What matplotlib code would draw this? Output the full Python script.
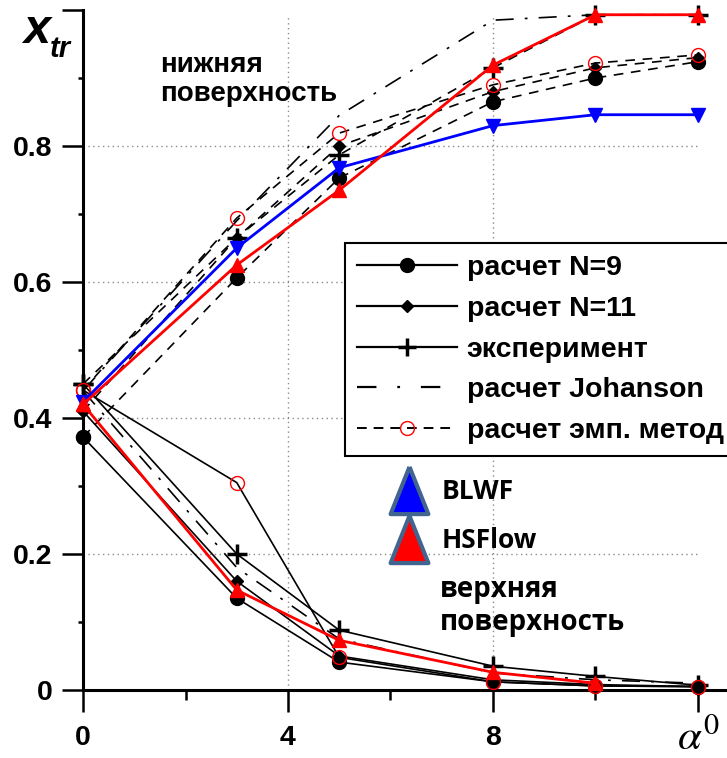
import matplotlib
matplotlib.use("Agg")
import matplotlib.pyplot as plt
from matplotlib.lines import Line2D

plt.rcParams["font.family"] = ["Liberation Sans", "DejaVu Sans"]
plt.rcParams["mathtext.fontset"] = "stix"
plt.rcParams["lines.scale_dashes"] = False

# angle of attack, deg
alpha = [0, 3, 5, 8, 10, 12]

# lower surface (upper branch)
low_n9 = [0.372, 0.606, 0.753, 0.865, 0.900, 0.924]
low_n11 = [0.410, 0.665, 0.800, 0.880, 0.915, 0.930]
low_exp = [0.450, 0.665, 0.787, 0.915, 0.993, 0.993]
low_joh = [0.440, 0.690, 0.845, 0.985, 0.993, 0.993]
low_emp = [0.441, 0.694, 0.819, 0.890, 0.922, 0.934]
low_blwf = [0.424, 0.650, 0.768, 0.830, 0.846, 0.846]
low_hsf = [0.420, 0.625, 0.735, 0.919, 0.993, 0.993]

# upper surface (lower branch)
up_n9 = [0.372, 0.135, 0.041, 0.012, 0.006, 0.005]
up_n11 = [0.410, 0.160, 0.050, 0.015, 0.008, 0.005]
up_exp = [0.450, 0.200, 0.088, 0.035, 0.020, 0.007]
up_joh = [0.440, 0.180, 0.075, 0.025, 0.015, 0.010]
up_emp = [0.441, 0.305, 0.048, 0.012, 0.006, 0.005]
alpha_hsf_up = [0, 3, 5, 8, 10]
up_hsf = [0.420, 0.147, 0.073, 0.026, 0.010]

legend_labels = ["расчет N=9", "расчет N=11", "эксперимент",
                 "расчет Johanson", "расчет эмп. метод"]
code_labels = ["BLWF", "HSFlow"]

DASH = (0, (7, 5.5))
DASHDOT = (0, (13, 8, 2, 8))
W = 727 / 100
H = 758 / 100

fig = plt.figure(figsize=(W, H), dpi=100)
ax = fig.add_axes([83 / 727, 68 / 758, 1 - 83 / 727, 680 / 758])
ax.set_xlim(0, 644 / 51.25)
ax.set_ylim(0, 1.0)

# grid (stops at alpha = 12)
grid_kw = dict(color="#8c8c8c", lw=1.0, linestyle=(0, (1, 2.5)), zorder=1)
ax.hlines([0.2, 0.4, 0.6, 0.8], 0, 12, **grid_kw)
ax.vlines([4, 8], 0, 0.99, **grid_kw)


def black(ax, x, y, ls, marker, ms, **kw):
    ax.plot(x, y, color="black", lw=1.2, linestyle=ls, marker=marker, ms=ms,
            clip_on=False, zorder=3, **kw)


# lower surface: dashed calc lines
black(ax, alpha, low_n9, DASH, "o", 10)
black(ax, alpha, low_n11, DASH, "D", 6.5)
black(ax, alpha, low_exp, DASH, "+", 14, mew=2.5)
black(ax, alpha, low_joh, DASHDOT, None, 0)
black(ax, alpha, low_emp, DASH, "o", 10, mfc="none", mec="red", mew=1.0)

# upper surface: solid lines
black(ax, alpha, up_n9, "-", "o", 10)
black(ax, alpha, up_n11, "-", "D", 6.5)
black(ax, alpha, up_exp, "-", "+", 14, mew=2.5)
black(ax, alpha, up_joh, DASHDOT, None, 0)
black(ax, alpha, up_emp, "-", "o", 10, mfc="none", mec="red", mew=1.0)

ax.plot(alpha, low_blwf, color="blue", lw=2.0, marker="v", ms=10,
        clip_on=False, zorder=5)
ax.plot(alpha, low_hsf, color="red", lw=2.0, marker="^", ms=10,
        clip_on=False, zorder=5)
ax.plot(alpha_hsf_up, up_hsf, color="red", lw=2.0, marker="^", ms=10,
        clip_on=False, zorder=5)

# axes look
for s in ["top", "right"]:
    ax.spines[s].set_visible(False)
ax.spines["left"].set_linewidth(2.2)
ax.spines["bottom"].set_linewidth(2.2)

ax.set_xticks([0, 4, 8, 12])
ax.set_xticklabels(["0", "4", "8", ""])
ax.set_xticks([2, 6, 10], minor=True)
ax.set_yticks([0, 0.2, 0.4, 0.6, 0.8, 1.0])
ax.set_yticklabels(["0", "0.2", "0.4", "0.6", "0.8", ""])
ax.set_yticks([0.1, 0.3, 0.5, 0.7, 0.9], minor=True)
ax.tick_params(axis="x", which="major", length=16, width=1.8, pad=9,
               labelsize=20.5)
ax.tick_params(axis="x", which="minor", length=7, width=1.8)
ax.tick_params(axis="y", which="major", length=15, width=1.8, pad=7,
               labelsize=20.5)
ax.tick_params(axis="y", which="minor", length=3.6, width=1.8)
for lab in ax.get_xticklabels() + ax.get_yticklabels():
    lab.set_fontweight("bold")

# x axis name at the last tick
fig.text(698 / 727, 1 - 750 / 758, r"$\alpha^0$", fontsize=31, ha="center",
         va="baseline")

# axis title x_tr
fig.text(23 / 727, 1 - 43 / 758, "x", fontsize=35, fontweight="bold",
         fontstyle="italic", va="baseline")
fig.text(50 / 727, 1 - 57 / 758, "tr", fontsize=21, fontweight="bold",
         fontstyle="italic", va="baseline")

# surface captions
fig.text(160 / 727, 1 - 72 / 758, "нижняя", fontsize=20, fontweight="bold",
         va="baseline")
fig.text(160 / 727, 1 - 101 / 758, "поверхность", fontsize=20,
         fontweight="bold", va="baseline")
fig.text(440 / 727, 1 - 597 / 758, "верхняя", fontsize=20, fontweight="bold",
         va="baseline", family=["Open Sans", "DejaVu Sans"])
fig.text(440 / 727, 1 - 630 / 758, "поверхность", fontsize=20,
         fontweight="bold", va="baseline", family=["Open Sans", "DejaVu Sans"])

# main legend
handles = [
    Line2D([], [], color="black", lw=1.6, marker="o", ms=10),
    Line2D([], [], color="black", lw=1.6, marker="D", ms=6.5),
    Line2D([], [], color="black", lw=1.6, marker="+", ms=13, mew=2.5),
    Line2D([], [], color="black", lw=1.6, linestyle=(0, (14, 15, 2, 15))),
    Line2D([], [], color="black", lw=1.4, linestyle=(0, (7, 5)), marker="o",
           ms=10, mfc="none", mec="red", mew=1.0),
]
leg = fig.legend(handles, legend_labels, loc="upper left",
                 bbox_to_anchor=(345 / 727, 1 - 243 / 758), borderaxespad=0,
                 prop=dict(family="Liberation Sans", weight="bold", size=20.5),
                 handlelength=3.5, handletextpad=0.35, labelspacing=0.52,
                 borderpad=0.42, fancybox=False, framealpha=1,
                 edgecolor="black")
leg.get_frame().set_linewidth(1.5)

# code legend with tall triangles
tri = [(0, 1), (-0.8, -1), (0.8, -1), (0, 1)]
code_handles = [
    Line2D([], [], linestyle="none", marker=tri, ms=34, mfc="blue",
           mec="#42658f", mew=3),
    Line2D([], [], linestyle="none", marker=tri, ms=34, mfc="red",
           mec="#42658f", mew=3),
]
fig.legend(code_handles, code_labels, loc="upper left",
           bbox_to_anchor=(389 / 727, 1 - 478 / 758), borderaxespad=0,
           borderpad=0, frameon=False,
           prop=dict(family="Open Sans", weight="bold", size=19),
           handlelength=1.5, handletextpad=0.5, labelspacing=0.85)

fig.savefig("out.png", dpi=100)
